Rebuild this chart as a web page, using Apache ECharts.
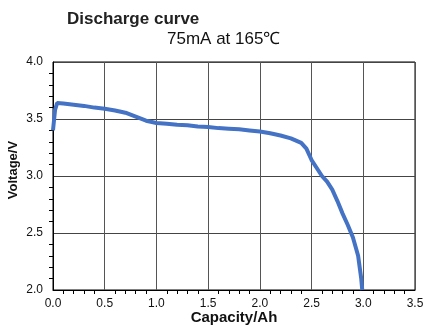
<!DOCTYPE html>
<html><head><meta charset="utf-8">
<script src="https://cdn.jsdelivr.net/npm/echarts@6/dist/echarts.min.js"></script>
<style>html,body{margin:0;padding:0;background:#fff}#c{width:432px;height:328px}</style>
</head><body><div id="c"></div>
<script>
const capacity = [0.00,0.02,0.04,0.10,0.20,0.30,0.40,0.50,0.60,0.70,0.80,0.90,1.00,1.10,1.20,1.30,1.40,1.50,1.60,1.70,1.80,1.90,2.00,2.10,2.20,2.30,2.40,2.45,2.50,2.55,2.60,2.65,2.70,2.75,2.80,2.85,2.90,2.95,2.98,2.99];
const voltage  = [3.40,3.58,3.64,3.635,3.625,3.615,3.60,3.59,3.575,3.555,3.52,3.485,3.465,3.458,3.45,3.445,3.435,3.43,3.42,3.415,3.41,3.40,3.39,3.375,3.355,3.33,3.29,3.24,3.14,3.07,3.00,2.95,2.88,2.78,2.67,2.57,2.46,2.30,2.10,2.00];
const titleText = 'Discharge curve';
const subtitleText = '75mA at 165℃';
const xName = 'Capacity/Ah';
const yName = 'Voltage/V';

const chart = echarts.init(document.getElementById('c'), null, {renderer:'canvas'});
const font = '"Liberation Sans", Arial, sans-serif';
chart.setOption({
  animation:false,
  backgroundColor:'#fff',
  title:[
    {text:titleText, left:67, top:11, padding:0, textStyle:{fontFamily:font, fontSize:17, fontWeight:'bold', color:'#222'}},
    {text:subtitleText, left:167, top:31, padding:0, textStyle:{fontFamily:font, fontSize:17, fontWeight:'normal', color:'#111'}}
  ],
  grid:{left:53, right:17, top:62, bottom:38, containLabel:false, outerBoundsMode:'none', show:true, borderColor:'#000', borderWidth:1, backgroundColor:'transparent'},
  xAxis:{
    type:'value', min:0, max:3.5, interval:0.5,
    name:xName, nameLocation:'middle', nameGap:20, nameMoveOverlap:false,
    nameTextStyle:{fontFamily:font, fontSize:15, fontWeight:'bold', color:'#111'},
    axisLine:{show:true, lineStyle:{color:'#000', width:1}},
    axisTick:{show:false},
    minorTick:{show:true, splitNumber:5, length:4, lineStyle:{color:'#000'}},
    axisLabel:{fontFamily:font, fontSize:12, color:'#111', margin:8, formatter:v=>v.toFixed(1)},
    splitLine:{show:true, lineStyle:{color:'#555', width:1}}
  },
  yAxis:{
    type:'value', min:2, max:4, interval:0.5,
    name:yName, nameLocation:'middle', nameGap:33, nameMoveOverlap:false,
    nameTextStyle:{fontFamily:font, fontSize:13, fontWeight:'bold', color:'#111', padding:[0,0,0,12]},
    axisLine:{show:true, lineStyle:{color:'#000', width:1}},
    axisTick:{show:false},
    minorTick:{show:true, splitNumber:5, length:4, lineStyle:{color:'#000'}},
    axisLabel:{fontFamily:font, fontSize:12, color:'#111', margin:10, formatter:v=>v.toFixed(1)},
    splitLine:{show:true, lineStyle:{color:'#444', width:1}}
  },
  series:[{
    type:'line', showSymbol:false, smooth:false,
    data:capacity.map((c,i)=>[c, voltage[i]]),
    lineStyle:{color:'#4472C4', width:4},
    itemStyle:{color:'#4472C4'}
  }]
});
</script></body></html>
